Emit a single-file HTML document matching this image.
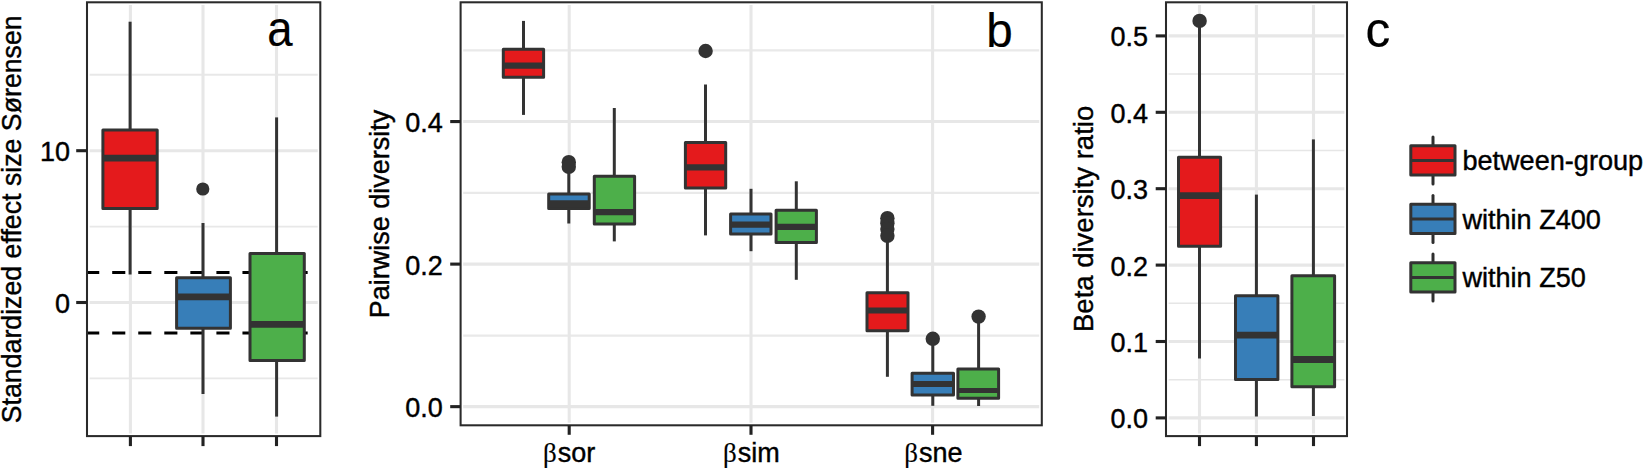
<!DOCTYPE html>
<html><head><meta charset="utf-8"><title>Beta diversity boxplots</title>
<style>
html,body{margin:0;padding:0;background:#fff;}
body{width:1643px;height:469px;overflow:hidden;}
svg{display:block;}
text{font-family:"Liberation Sans",Arial,Helvetica,sans-serif;font-size:27.0px;fill:#000;stroke:#000;stroke-width:0.4px;}
.big{font-size:47.6px;stroke-width:0.2px;}
.sym{font-family:"Liberation Serif","DejaVu Serif",serif;stroke-width:0.15px;}
</style></head><body>
<svg width="1643" height="469" viewBox="0 0 1643 469">
<rect width="1643" height="469" fill="#fff"/>
<rect x="87" y="2.3" width="233.3" height="433.8" fill="#fff"/>
<line x1="89.6" x2="317.7" y1="74.80000000000001" y2="74.80000000000001" stroke="#E8E8E8" stroke-width="1.9"/>
<line x1="89.6" x2="317.7" y1="226.6" y2="226.6" stroke="#E8E8E8" stroke-width="1.9"/>
<line x1="89.6" x2="317.7" y1="378.4" y2="378.4" stroke="#E8E8E8" stroke-width="1.9"/>
<line x1="89.6" x2="317.7" y1="150.7" y2="150.7" stroke="#E7E7E7" stroke-width="3.1"/>
<line x1="89.6" x2="317.7" y1="302.5" y2="302.5" stroke="#E7E7E7" stroke-width="3.1"/>
<line x1="130.4" x2="130.4" y1="4.9" y2="433.5" stroke="#E7E7E7" stroke-width="3.1"/>
<line x1="203" x2="203" y1="4.9" y2="433.5" stroke="#E7E7E7" stroke-width="3.1"/>
<line x1="276.5" x2="276.5" y1="4.9" y2="433.5" stroke="#E7E7E7" stroke-width="3.1"/>
<line x1="86.15" x2="308" y1="272.44" y2="272.44" stroke="#000" stroke-width="3" stroke-dasharray="13.1 12.95"/>
<line x1="86.15" x2="308" y1="332.96000000000004" y2="332.96000000000004" stroke="#000" stroke-width="3" stroke-dasharray="13.1 12.95"/>
<line x1="130.1" x2="130.1" y1="21.7" y2="130.1" stroke="#333333" stroke-width="3"/>
<line x1="130.1" x2="130.1" y1="208.6" y2="274.5" stroke="#333333" stroke-width="3"/>
<rect x="102.90" y="130.10" width="54.30" height="78.50" fill="#E41A1C" stroke="#333333" stroke-width="3" stroke-linejoin="round"/>
<line x1="102.9" x2="157.2" y1="158.1" y2="158.1" stroke="#333333" stroke-width="6.8"/>
<circle cx="202.8" cy="189" r="6.6" fill="#333333"/>
<line x1="203" x2="203" y1="223" y2="277.8" stroke="#333333" stroke-width="3"/>
<line x1="203" x2="203" y1="328.3" y2="394" stroke="#333333" stroke-width="3"/>
<rect x="176.60" y="277.80" width="53.80" height="50.50" fill="#377EB8" stroke="#333333" stroke-width="3" stroke-linejoin="round"/>
<line x1="176.6" x2="230.4" y1="296.8" y2="296.8" stroke="#333333" stroke-width="6.8"/>
<line x1="276.6" x2="276.6" y1="117.4" y2="253.5" stroke="#333333" stroke-width="3"/>
<line x1="276.6" x2="276.6" y1="360.5" y2="416.6" stroke="#333333" stroke-width="3"/>
<rect x="250.00" y="253.50" width="54.30" height="107.00" fill="#4DAF4A" stroke="#333333" stroke-width="3" stroke-linejoin="round"/>
<line x1="250.0" x2="304.3" y1="324.4" y2="324.4" stroke="#333333" stroke-width="6.8"/>
<rect x="87" y="2.3" width="233.3" height="433.8" fill="none" stroke="#2a2a2a" stroke-width="2.05"/>
<line x1="76.2" x2="87" y1="150.7" y2="150.7" stroke="#222" stroke-width="3.1"/>
<text transform="translate(69.9,161.2) scale(1,1.04)" text-anchor="end">10</text>
<line x1="76.2" x2="87" y1="302.5" y2="302.5" stroke="#222" stroke-width="3.1"/>
<text transform="translate(69.9,313.0) scale(1,1.04)" text-anchor="end">0</text>
<line x1="130.4" x2="130.4" y1="436.1" y2="446.1" stroke="#222" stroke-width="3.1"/>
<line x1="203" x2="203" y1="436.1" y2="446.1" stroke="#222" stroke-width="3.1"/>
<line x1="276.5" x2="276.5" y1="436.1" y2="446.1" stroke="#222" stroke-width="3.1"/>
<text class="big" style="font-size:50px" transform="translate(279.9,46.4) scale(0.91,1)" text-anchor="middle">a</text>
<text style="font-size:26.72px" transform="translate(21,219.3) rotate(-90)" text-anchor="middle">Standardized effect size Sørensen</text>
<rect x="460.6" y="2.3" width="581.1999999999999" height="423.0" fill="#fff"/>
<line x1="463.20000000000005" x2="1039.2" y1="335.7" y2="335.7" stroke="#E9E9E9" stroke-width="2.2"/>
<line x1="463.20000000000005" x2="1039.2" y1="192.95" y2="192.95" stroke="#E9E9E9" stroke-width="2.2"/>
<line x1="463.20000000000005" x2="1039.2" y1="50.4" y2="50.4" stroke="#E9E9E9" stroke-width="2.2"/>
<line x1="463.20000000000005" x2="1039.2" y1="406.65" y2="406.65" stroke="#E7E7E7" stroke-width="3.1"/>
<line x1="463.20000000000005" x2="1039.2" y1="264.11" y2="264.11" stroke="#E7E7E7" stroke-width="3.1"/>
<line x1="463.20000000000005" x2="1039.2" y1="121.57" y2="121.57" stroke="#E7E7E7" stroke-width="3.1"/>
<line x1="569.2" x2="569.2" y1="4.9" y2="422.7" stroke="#E7E7E7" stroke-width="3.1"/>
<line x1="751" x2="751" y1="4.9" y2="422.7" stroke="#E7E7E7" stroke-width="3.1"/>
<line x1="932.6" x2="932.6" y1="4.9" y2="422.7" stroke="#E7E7E7" stroke-width="3.1"/>
<line x1="523.5" x2="523.5" y1="20.9" y2="49.3" stroke="#333333" stroke-width="3"/>
<line x1="523.5" x2="523.5" y1="77.3" y2="114.9" stroke="#333333" stroke-width="3"/>
<rect x="503.30" y="49.30" width="40.30" height="28.00" fill="#E41A1C" stroke="#333333" stroke-width="3" stroke-linejoin="round"/>
<line x1="503.3" x2="543.6" y1="65.6" y2="65.6" stroke="#333333" stroke-width="6.2"/>
<circle cx="568.8" cy="162.2" r="7.2" fill="#333333"/>
<circle cx="568.8" cy="166.8" r="7.2" fill="#333333"/>
<line x1="568.8" x2="568.8" y1="172" y2="194.0" stroke="#333333" stroke-width="3"/>
<line x1="568.8" x2="568.8" y1="208.6" y2="223.5" stroke="#333333" stroke-width="3"/>
<rect x="548.70" y="194.00" width="40.50" height="14.60" fill="#377EB8" stroke="#333333" stroke-width="3" stroke-linejoin="round"/>
<line x1="548.7" x2="589.2" y1="203.7" y2="203.7" stroke="#333333" stroke-width="7"/>
<line x1="614.3" x2="614.3" y1="108" y2="176.3" stroke="#333333" stroke-width="3"/>
<line x1="614.3" x2="614.3" y1="223.9" y2="241.4" stroke="#333333" stroke-width="3"/>
<rect x="594.30" y="176.30" width="40.30" height="47.60" fill="#4DAF4A" stroke="#333333" stroke-width="3" stroke-linejoin="round"/>
<line x1="594.3" x2="634.6" y1="212.1" y2="212.1" stroke="#333333" stroke-width="6.2"/>
<circle cx="705.6" cy="51" r="7.2" fill="#333333"/>
<line x1="705.5" x2="705.5" y1="84.5" y2="142.5" stroke="#333333" stroke-width="3"/>
<line x1="705.5" x2="705.5" y1="188.1" y2="235.4" stroke="#333333" stroke-width="3"/>
<rect x="685.40" y="142.50" width="40.30" height="45.60" fill="#E41A1C" stroke="#333333" stroke-width="3" stroke-linejoin="round"/>
<line x1="685.4" x2="725.7" y1="167.3" y2="167.3" stroke="#333333" stroke-width="6.2"/>
<line x1="751" x2="751" y1="188.8" y2="214.0" stroke="#333333" stroke-width="3"/>
<line x1="751" x2="751" y1="234.0" y2="251.2" stroke="#333333" stroke-width="3"/>
<rect x="730.60" y="214.00" width="40.40" height="20.00" fill="#377EB8" stroke="#333333" stroke-width="3" stroke-linejoin="round"/>
<line x1="730.6" x2="771.0" y1="224.6" y2="224.6" stroke="#333333" stroke-width="6.2"/>
<line x1="796.3" x2="796.3" y1="181.3" y2="210.3" stroke="#333333" stroke-width="3"/>
<line x1="796.3" x2="796.3" y1="242.5" y2="279.8" stroke="#333333" stroke-width="3"/>
<rect x="776.10" y="210.30" width="40.30" height="32.20" fill="#4DAF4A" stroke="#333333" stroke-width="3" stroke-linejoin="round"/>
<line x1="776.1" x2="816.4" y1="226.9" y2="226.9" stroke="#333333" stroke-width="6.2"/>
<circle cx="887.4" cy="218.2" r="7.2" fill="#333333"/>
<circle cx="887.4" cy="223.3" r="7.2" fill="#333333"/>
<circle cx="887.4" cy="229" r="7.2" fill="#333333"/>
<circle cx="887.4" cy="235.8" r="7.2" fill="#333333"/>
<line x1="887.4" x2="887.4" y1="238" y2="292.7" stroke="#333333" stroke-width="3"/>
<line x1="887.4" x2="887.4" y1="330.7" y2="376.8" stroke="#333333" stroke-width="3"/>
<rect x="867.00" y="292.70" width="41.00" height="38.00" fill="#E41A1C" stroke="#333333" stroke-width="3" stroke-linejoin="round"/>
<line x1="867.0" x2="908.0" y1="310.5" y2="310.5" stroke="#333333" stroke-width="6.2"/>
<circle cx="932.8" cy="338.8" r="7.2" fill="#333333"/>
<line x1="932.8" x2="932.8" y1="340" y2="373.3" stroke="#333333" stroke-width="3"/>
<line x1="932.8" x2="932.8" y1="395.0" y2="405.8" stroke="#333333" stroke-width="3"/>
<rect x="912.10" y="373.30" width="41.40" height="21.70" fill="#377EB8" stroke="#333333" stroke-width="3" stroke-linejoin="round"/>
<line x1="912.1" x2="953.5" y1="384" y2="384" stroke="#333333" stroke-width="6.2"/>
<circle cx="978.6" cy="316.6" r="7.2" fill="#333333"/>
<line x1="978.6" x2="978.6" y1="318" y2="369.0" stroke="#333333" stroke-width="3"/>
<line x1="978.6" x2="978.6" y1="398.2" y2="406" stroke="#333333" stroke-width="3"/>
<rect x="957.90" y="369.00" width="40.70" height="29.20" fill="#4DAF4A" stroke="#333333" stroke-width="3" stroke-linejoin="round"/>
<line x1="957.9" x2="998.6" y1="390.5" y2="390.5" stroke="#333333" stroke-width="5.2"/>
<rect x="460.6" y="2.3" width="581.1999999999999" height="423.0" fill="none" stroke="#2a2a2a" stroke-width="2.05"/>
<line x1="450.20000000000005" x2="460.6" y1="121.57" y2="121.57" stroke="#222" stroke-width="3.1"/>
<text transform="translate(442.8,132.1) scale(1,1.04)" text-anchor="end">0.4</text>
<line x1="450.20000000000005" x2="460.6" y1="264.11" y2="264.11" stroke="#222" stroke-width="3.1"/>
<text transform="translate(442.8,274.6) scale(1,1.04)" text-anchor="end">0.2</text>
<line x1="450.20000000000005" x2="460.6" y1="406.65" y2="406.65" stroke="#222" stroke-width="3.1"/>
<text transform="translate(442.8,417.1) scale(1,1.04)" text-anchor="end">0.0</text>
<line x1="569.2" x2="569.2" y1="425.3" y2="434.8" stroke="#222" stroke-width="3.1"/>
<text x="595.2" y="462.0" text-anchor="end"><tspan class="sym">β</tspan><tspan dx="0.9">sor</tspan></text>
<line x1="751" x2="751" y1="425.3" y2="434.8" stroke="#222" stroke-width="3.1"/>
<text x="779.7" y="462.0" text-anchor="end"><tspan class="sym">β</tspan><tspan dx="0.9">sim</tspan></text>
<line x1="932.6" x2="932.6" y1="425.3" y2="434.8" stroke="#222" stroke-width="3.1"/>
<text x="962.5" y="462.0" text-anchor="end"><tspan class="sym">β</tspan><tspan dx="0.9">sne</tspan></text>
<text class="big" x="999.6" y="46.6" text-anchor="middle">b</text>
<text transform="translate(389,214) rotate(-90)" text-anchor="middle">Pairwise diversity</text>
<rect x="1166" y="2.3" width="181" height="433.8" fill="#fff"/>
<line x1="1168.6" x2="1344.4" y1="379.7" y2="379.7" stroke="#E6E6E6" stroke-width="1.5"/>
<line x1="1168.6" x2="1344.4" y1="303.29999999999995" y2="303.29999999999995" stroke="#E6E6E6" stroke-width="1.5"/>
<line x1="1168.6" x2="1344.4" y1="226.89999999999998" y2="226.89999999999998" stroke="#E6E6E6" stroke-width="1.5"/>
<line x1="1168.6" x2="1344.4" y1="150.49999999999994" y2="150.49999999999994" stroke="#E6E6E6" stroke-width="1.5"/>
<line x1="1168.6" x2="1344.4" y1="74.09999999999997" y2="74.09999999999997" stroke="#E6E6E6" stroke-width="1.5"/>
<line x1="1168.6" x2="1344.4" y1="417.9" y2="417.9" stroke="#E7E7E7" stroke-width="3.1"/>
<line x1="1168.6" x2="1344.4" y1="341.5" y2="341.5" stroke="#E7E7E7" stroke-width="3.1"/>
<line x1="1168.6" x2="1344.4" y1="265.09999999999997" y2="265.09999999999997" stroke="#E7E7E7" stroke-width="3.1"/>
<line x1="1168.6" x2="1344.4" y1="188.69999999999996" y2="188.69999999999996" stroke="#E7E7E7" stroke-width="3.1"/>
<line x1="1168.6" x2="1344.4" y1="112.29999999999995" y2="112.29999999999995" stroke="#E7E7E7" stroke-width="3.1"/>
<line x1="1168.6" x2="1344.4" y1="35.89999999999998" y2="35.89999999999998" stroke="#E7E7E7" stroke-width="3.1"/>
<line x1="1199.5" x2="1199.5" y1="4.9" y2="433.5" stroke="#E7E7E7" stroke-width="3.1"/>
<line x1="1256.4" x2="1256.4" y1="4.9" y2="433.5" stroke="#E7E7E7" stroke-width="3.1"/>
<line x1="1313.5" x2="1313.5" y1="4.9" y2="433.5" stroke="#E7E7E7" stroke-width="3.1"/>
<circle cx="1199.6" cy="20.9" r="7.2" fill="#333333"/>
<line x1="1199.5" x2="1199.5" y1="21" y2="157.3" stroke="#333333" stroke-width="3"/>
<line x1="1199.5" x2="1199.5" y1="246.2" y2="358.5" stroke="#333333" stroke-width="3"/>
<rect x="1178.50" y="157.30" width="42.10" height="88.90" fill="#E41A1C" stroke="#333333" stroke-width="3" stroke-linejoin="round"/>
<line x1="1178.5" x2="1220.6" y1="195.7" y2="195.7" stroke="#333333" stroke-width="6.8"/>
<line x1="1256.4" x2="1256.4" y1="194.6" y2="295.8" stroke="#333333" stroke-width="3"/>
<line x1="1256.4" x2="1256.4" y1="379.4" y2="416.5" stroke="#333333" stroke-width="3"/>
<rect x="1235.50" y="295.80" width="42.40" height="83.60" fill="#377EB8" stroke="#333333" stroke-width="3" stroke-linejoin="round"/>
<line x1="1235.5" x2="1277.9" y1="335.1" y2="335.1" stroke="#333333" stroke-width="6.8"/>
<line x1="1313.4" x2="1313.4" y1="139.4" y2="275.8" stroke="#333333" stroke-width="3"/>
<line x1="1313.4" x2="1313.4" y1="386.8" y2="416" stroke="#333333" stroke-width="3"/>
<rect x="1291.90" y="275.80" width="42.70" height="111.00" fill="#4DAF4A" stroke="#333333" stroke-width="3" stroke-linejoin="round"/>
<line x1="1291.9" x2="1334.6" y1="359.5" y2="359.5" stroke="#333333" stroke-width="6.8"/>
<rect x="1166" y="2.3" width="181" height="433.8" fill="none" stroke="#2a2a2a" stroke-width="2.05"/>
<line x1="1155.7" x2="1166" y1="417.9" y2="417.9" stroke="#222" stroke-width="3.1"/>
<text transform="translate(1148,428.4) scale(1,1.04)" text-anchor="end">0.0</text>
<line x1="1155.7" x2="1166" y1="341.5" y2="341.5" stroke="#222" stroke-width="3.1"/>
<text transform="translate(1148,352.0) scale(1,1.04)" text-anchor="end">0.1</text>
<line x1="1155.7" x2="1166" y1="265.09999999999997" y2="265.09999999999997" stroke="#222" stroke-width="3.1"/>
<text transform="translate(1148,275.6) scale(1,1.04)" text-anchor="end">0.2</text>
<line x1="1155.7" x2="1166" y1="188.69999999999996" y2="188.69999999999996" stroke="#222" stroke-width="3.1"/>
<text transform="translate(1148,199.2) scale(1,1.04)" text-anchor="end">0.3</text>
<line x1="1155.7" x2="1166" y1="112.29999999999995" y2="112.29999999999995" stroke="#222" stroke-width="3.1"/>
<text transform="translate(1148,122.8) scale(1,1.04)" text-anchor="end">0.4</text>
<line x1="1155.7" x2="1166" y1="35.89999999999998" y2="35.89999999999998" stroke="#222" stroke-width="3.1"/>
<text transform="translate(1148,46.4) scale(1,1.04)" text-anchor="end">0.5</text>
<line x1="1199.5" x2="1199.5" y1="436.1" y2="446.1" stroke="#222" stroke-width="3.1"/>
<line x1="1256.4" x2="1256.4" y1="436.1" y2="446.1" stroke="#222" stroke-width="3.1"/>
<line x1="1313.5" x2="1313.5" y1="436.1" y2="446.1" stroke="#222" stroke-width="3.1"/>
<text class="big" style="font-size:49.5px" x="1377.8" y="47" text-anchor="middle">c</text>
<text style="font-size:27.5px" transform="translate(1093.3,218.9) rotate(-90)" text-anchor="middle">Beta diversity ratio</text>
<line x1="1433" x2="1433" y1="137.0" y2="183.9" stroke="#2e2e2e" stroke-width="3" stroke-linecap="round"/>
<rect x="1410.8" y="145.7" width="44.2" height="29.2" fill="#E41A1C" stroke="#333333" stroke-width="3" stroke-linejoin="round"/>
<line x1="1410.8" x2="1455" y1="160.6" y2="160.6" stroke="#333333" stroke-width="3"/>
<text style="font-size:27.1px" x="1462.4" y="170.2">between-group</text>
<line x1="1433" x2="1433" y1="195.5" y2="242.4" stroke="#2e2e2e" stroke-width="3" stroke-linecap="round"/>
<rect x="1410.8" y="204.2" width="44.2" height="29.2" fill="#377EB8" stroke="#333333" stroke-width="3" stroke-linejoin="round"/>
<line x1="1410.8" x2="1455" y1="219.1" y2="219.1" stroke="#333333" stroke-width="3"/>
<text style="font-size:27.1px" x="1462.4" y="228.7">within Z400</text>
<line x1="1433" x2="1433" y1="254.0" y2="300.9" stroke="#2e2e2e" stroke-width="3" stroke-linecap="round"/>
<rect x="1410.8" y="262.7" width="44.2" height="29.2" fill="#4DAF4A" stroke="#333333" stroke-width="3" stroke-linejoin="round"/>
<line x1="1410.8" x2="1455" y1="277.6" y2="277.6" stroke="#333333" stroke-width="3"/>
<text style="font-size:27.1px" x="1462.4" y="287.2">within Z50</text>
</svg>
</body></html>
